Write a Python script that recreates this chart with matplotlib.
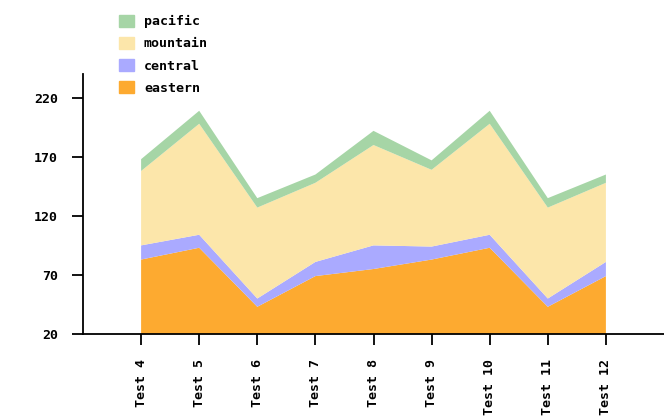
import matplotlib
matplotlib.use("Agg")
import matplotlib.pyplot as plt
from matplotlib.patches import Patch

categories = ["Test 4", "Test 5", "Test 6", "Test 7", "Test 8",
              "Test 9", "Test 10", "Test 11", "Test 12"]
eastern = [83, 93, 43, 69, 75, 83, 93, 43, 69]
central = [12, 11, 7, 12, 20, 11, 11, 7, 12]
mountain = [63, 94, 77, 67, 85, 65, 94, 77, 67]
pacific = [10, 11, 8, 7, 12, 8, 11, 8, 7]

names = ["eastern", "central", "mountain", "pacific"]
colors = ["#fdaa30", "#aaaaff", "#fce6aa", "#a6d5a6"]

plt.rcParams['font.family'] = ['DejaVu Sans Mono']
plt.rcParams['font.weight'] = 'bold'

fig = plt.figure(figsize=(6.64, 4.19), dpi=100)
ax = fig.add_axes([0.125, 0.203, 0.875, 0.62])

x = list(range(len(categories)))
ax.stackplot(x, eastern, central, mountain, pacific, colors=colors, linewidth=0)

ax.set_xlim(-1, 9)
ax.set_ylim(20, 240)
ax.set_yticks([20, 70, 120, 170, 220])
ax.set_xticks(x)
ax.set_xticklabels(categories, rotation=90)
ax.tick_params(axis='both', labelsize=9.5, length=8, width=1.3, colors='black')
ax.tick_params(axis='y', pad=10)
ax.tick_params(axis='x', pad=10)

for side in ['top', 'right']:
    ax.spines[side].set_visible(False)
for side in ['left', 'bottom']:
    ax.spines[side].set_linewidth(1.3)

handles = [Patch(color=c, label=n) for n, c in zip(names, colors)][::-1]
fig.legend(handles=handles, loc='upper left', bbox_to_anchor=(0.179, 0.965),
           frameon=False, fontsize=9.5, handlelength=1.15, handleheight=1.05,
           labelspacing=0.65, handletextpad=0.75, borderaxespad=0,
           borderpad=0)

fig.savefig("out.png", dpi=100)
